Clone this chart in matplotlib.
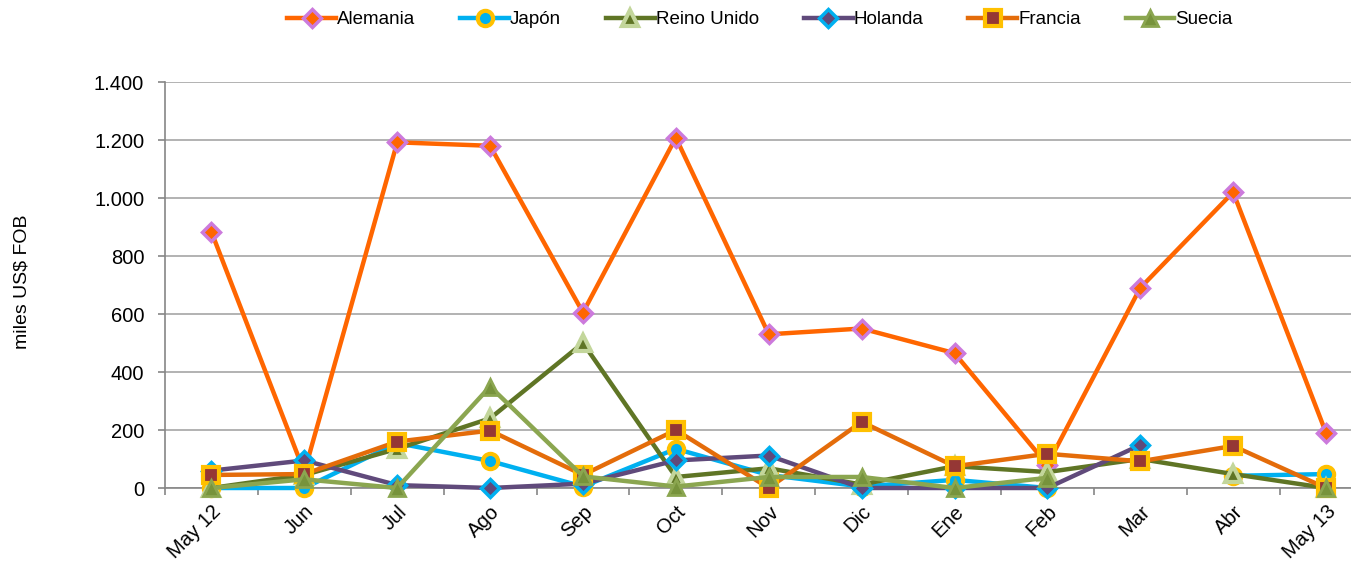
import numpy as np
import matplotlib
matplotlib.use("Agg")
import matplotlib.pyplot as plt

months = ["May 12", "Jun", "Jul", "Ago", "Sep", "Oct", "Nov", "Dic", "Ene", "Feb", "Mar", "Abr", "May 13"]
nan = np.nan
alemania = [883, 55, 1192, 1180, 605, 1208, 530, 550, 465, 80, 690, 1020, 190]
japon = [0, 0, 155, 93, 5, 135, 45, 5, 28, 0, nan, 42, 48]
reino_unido = [0, 45, 135, 240, 500, 38, 68, 12, 75, 55, 100, 48, 0]
holanda = [60, 95, 10, 0, 15, 95, 112, 0, 0, 0, 148, nan, nan]
francia = [45, 48, 160, 198, 45, 200, 0, 228, 75, 118, 92, 145, 0]
suecia = [0, 30, 0, 350, 40, 5, 38, 38, 0, 35, nan, nan, 0]
yticks = [0, 200, 400, 600, 800, 1000, 1200, 1400]
ytick_labels = ["0", "200", "400", "600", "800", "1.000", "1.200", "1.400"]

plt.rcParams['font.family'] = ['Liberation Sans', 'DejaVu Sans']
plt.rcParams['savefig.bbox'] = 'standard'

fig = plt.figure(figsize=(13.51, 5.67), dpi=100)
ax = fig.add_axes([165/1351, 1-488/567, 1-165/1351, (488-82)/567])
x = np.arange(len(months))

series = [
    ("Alemania", alemania, dict(color="#FF6600", marker="D", ms=9, mfc="#FF6600", mec="#CC7ADC", mew=2.5)),
    ("Japón", japon, dict(color="#00B0F0", marker="o", ms=11, mfc="#00B0F0", mec="#FFC000", mew=3)),
    ("Reino Unido", reino_unido, dict(color="#5F7525", marker="^", ms=12, mfc="#5F7525", mec="#C3D69B", mew=3)),
    ("Holanda", holanda, dict(color="#604A7B", marker="D", ms=9, mfc="#604A7B", mec="#00B0F0", mew=2.5)),
    ("Francia", francia, dict(color="#E46C0A", marker="s", ms=12, mfc="#953735", mec="#FFC000", mew=3)),
    ("Suecia", suecia, dict(color="#8BA650", marker="^", ms=12, mfc="#77933C", mec="#8BA650", mew=2)),
]
for name, vals, st in series:
    ax.plot(x, vals, label=name, lw=3.2, solid_joinstyle='round', clip_on=False, zorder=3, **st)

ax.set_yticks(yticks)
ax.set_yticklabels(ytick_labels, fontsize=14.5)
ax.set_xticks(x)
ax.set_xticklabels(months, fontsize=14.5, rotation=45, ha='right', rotation_mode='anchor')
ax.set_xticks(np.arange(-0.5, 12.3, 1), minor=True)
ax.set_xlim(-0.5, 12 + 25/93)
ax.set_ylim(0, 1400)
ax.tick_params(axis='x', which='major', length=0, pad=10)
ax.tick_params(axis='x', which='minor', length=5, color='#868686', width=1.2)
ax.tick_params(axis='y', length=5, color='#868686', width=1.2, pad=10)
ax.grid(axis='y', color='#A6A6A6', lw=1.2)
ax.set_axisbelow(True)
for s in ['top', 'right']:
    ax.spines[s].set_visible(False)
for s in ['left', 'bottom']:
    ax.spines[s].set_color('#868686')
    ax.spines[s].set_linewidth(1.2)

ax.text(22/1351, 1-282/567, "miles US$ FOB", fontsize=14, rotation=90,
        ha='center', va='center', transform=fig.transFigure)

fig.legend(loc='upper center', bbox_to_anchor=(0.5625, 1.01), ncol=6, frameon=False,
           fontsize=13.5, handlelength=2.6, handletextpad=0.05, columnspacing=2.4)

fig.savefig("out.png", dpi=100)
